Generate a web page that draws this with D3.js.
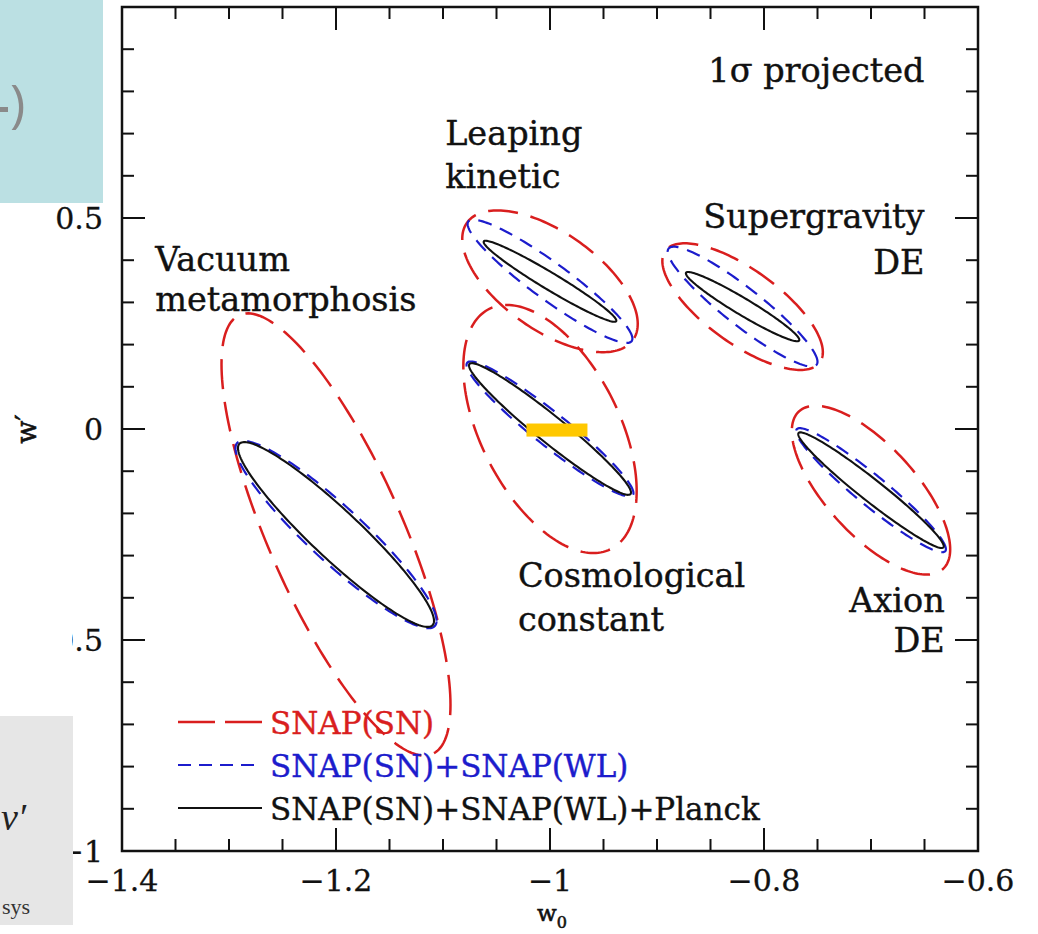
<!DOCTYPE html>
<html>
<head>
<meta charset="utf-8">
<script src="https://cdn.jsdelivr.net/npm/d3@7"></script>
<style>
  html, body { margin: 0; padding: 0; background: #fff; }
  svg { display: block; }
</style>
</head>
<body>
<div id="chart"></div>
<script>
// models (centres of the fiducial cosmologies)
const models = ['Vacuum metamorphosis', 'Leaping kinetic', 'Cosmological constant', 'Supergravity DE', 'Axion DE'];
const centerW0 = [-1.2, -1.0, -1.0, -0.82, -0.70];
const centerWp = [-0.25, 0.35, 0.0, 0.29, -0.145];

// 1 sigma projected errors and correlation, per data combination
const series = ['SNAP(SN)', 'SNAP(SN)+SNAP(WL)', 'SNAP(SN)+SNAP(WL)+Planck'];
const sigW0_SN = [0.107, 0.082, 0.081, 0.075, 0.074];
const sigWp_SN = [0.524, 0.168, 0.294, 0.150, 0.200];
const rho_SN = [-0.77, -0.60, -0.50, -0.72, -0.70];
const sigW0_WL = [0.094, 0.077, 0.078, 0.070, 0.070];
const sigWp_WL = [0.222, 0.146, 0.160, 0.142, 0.147];
const rho_WL = [-0.92, -0.93, -0.95, -0.92, -0.95];
const sigW0_PL = [0.0916, 0.062, 0.0757, 0.053, 0.068];
const sigWp_PL = [0.219, 0.096, 0.156, 0.082, 0.137];
const rho_PL = [-0.935, -0.97, -0.965, -0.96, -0.97];

// axis ticks
const xMajor = [-1.4, -1.2, -1.0, -0.8, -0.6];
const xTickLabels = ['\u22121.4', '\u22121.2', '\u22121', '\u22120.8', '\u22120.6'];
const yMajor = [-1, -0.5, 0, 0.5, 1];
const yTickLabels = ['\u22121', '\u22120.5', '0', '0.5', ''];

// text labels placed in data coordinates (baseline)
const labelLines = [
  { text: '1\u03c3 projected', w0: -0.650, wp: 0.823, anchor: 'end' },
  { text: 'Leaping', w0: -1.098, wp: 0.673, anchor: 'start' },
  { text: 'kinetic', w0: -1.098, wp: 0.571, anchor: 'start' },
  { text: 'Supergravity', w0: -0.650, wp: 0.476, anchor: 'end' },
  { text: 'DE', w0: -0.650, wp: 0.367, anchor: 'end' },
  { text: 'Vacuum', w0: -1.369, wp: 0.3744, anchor: 'start' },
  { text: 'metamorphosis', w0: -1.369, wp: 0.2796, anchor: 'start' },
  { text: 'Cosmological', w0: -1.030, wp: -0.374, anchor: 'start' },
  { text: 'constant', w0: -1.030, wp: -0.479, anchor: 'start' },
  { text: 'Axion', w0: -0.631, wp: -0.434, anchor: 'end' },
  { text: 'DE', w0: -0.631, wp: -0.529, anchor: 'end' }
];

(function () {
  const width = 1038;
  const height = 934;
  const font = '"DejaVu Serif", serif';

  const svg = d3.select('#chart').append('svg')
    .attr('width', width)
    .attr('height', height)
    .attr('viewBox', `0 0 ${width} ${height}`);

  svg.append('rect').attr('width', width).attr('height', height).attr('fill', '#fff');

  const x = d3.scaleLinear().domain([-1.4, -0.6]).range([122, 978]);
  const y = d3.scaleLinear().domain([-1, 1]).range([851, 7]);

  const xMinor = d3.range(-1.4, -0.6 + 1e-9, 0.05).filter(v => !xMajor.some(m => Math.abs(m - v) < 1e-6));
  const yMinor = d3.range(-1, 1 + 1e-9, 0.1).filter(v => !yMajor.some(m => Math.abs(m - v) < 1e-6));

  // ticks, inward on all four sides
  const tickLayer = svg.append('g').attr('class', 'ticks')
    .attr('stroke', '#111').attr('stroke-width', 2);

  function xticks(vals, len) {
    tickLayer.selectAll(null).data(vals).enter().append('line')
      .attr('x1', d => x(d)).attr('x2', d => x(d))
      .attr('y1', y(-1)).attr('y2', y(-1) - len);
    tickLayer.selectAll(null).data(vals).enter().append('line')
      .attr('x1', d => x(d)).attr('x2', d => x(d))
      .attr('y1', y(1)).attr('y2', y(1) + len);
  }
  function yticks(vals, len) {
    tickLayer.selectAll(null).data(vals).enter().append('line')
      .attr('y1', d => y(d)).attr('y2', d => y(d))
      .attr('x1', x(-1.4)).attr('x2', x(-1.4) + len);
    tickLayer.selectAll(null).data(vals).enter().append('line')
      .attr('y1', d => y(d)).attr('y2', d => y(d))
      .attr('x1', x(-0.6)).attr('x2', x(-0.6) - len);
  }
  xticks(xMajor, 23);
  xticks(xMinor, 12);
  yticks(yMajor, 23);
  yticks(yMinor, 12);

  // frame
  svg.append('rect')
    .attr('x', x(-1.4)).attr('y', y(1))
    .attr('width', x(-0.6) - x(-1.4)).attr('height', y(-1) - y(1))
    .attr('fill', 'none').attr('stroke', '#111').attr('stroke-width', 2.5);

  // tick labels
  svg.append('g').selectAll('text').data(xMajor).enter().append('text')
    .attr('x', d => x(d)).attr('y', 891)
    .attr('text-anchor', 'middle')
    .attr('font-family', font).attr('font-size', 30)
    .attr('fill', '#111').attr('stroke', '#111').attr('stroke-width', 0.3)
    .text((d, i) => xTickLabels[i]);

  svg.append('g').selectAll('text').data(yMajor).enter().append('text')
    .attr('x', 103).attr('y', d => y(d))
    .attr('dy', '0.36em')
    .attr('text-anchor', 'end')
    .attr('font-family', font).attr('font-size', 30)
    .attr('fill', '#111').attr('stroke', '#111').attr('stroke-width', 0.3)
    .text((d, i) => yTickLabels[i]);

  // axis titles
  const xt = svg.append('text')
    .attr('x', 537).attr('y', 921)
    .attr('font-family', font).attr('font-size', 23)
    .attr('fill', '#111').attr('stroke', '#111').attr('stroke-width', 0.6);
  xt.append('tspan').text('w');
  xt.append('tspan').attr('dy', 7).attr('font-size', 16).text('0');

  svg.append('text')
    .attr('transform', `translate(36, ${y(0)}) rotate(-90)`)
    .attr('text-anchor', 'middle')
    .attr('font-family', font).attr('font-size', 27)
    .attr('fill', '#111').attr('stroke', '#111').attr('stroke-width', 0.6)
    .text('w\u2032');

  // ellipses from sigmas and correlation
  const styles = [
    { color: '#d91e1e', width: 2.5, dash: '30,13', legendDash: '37,10' },
    { color: '#1c1ccc', width: 2.2, dash: '14,9', legendDash: '13,8' },
    { color: '#111111', width: 2.1, dash: null, legendDash: null }
  ];
  const sigW0 = [sigW0_SN, sigW0_WL, sigW0_PL];
  const sigWp = [sigWp_SN, sigWp_WL, sigWp_PL];
  const rhos = [rho_SN, rho_WL, rho_PL];

  const ellipse = (cx, cy, sx, sy, r) => d3.range(0, 2 * Math.PI, Math.PI / 90).map(t => [
    x(cx + sx * Math.cos(t)),
    y(cy + sy * (r * Math.cos(t) + Math.sqrt(1 - r * r) * Math.sin(t)))
  ]);
  const line = d3.line().curve(d3.curveLinearClosed);

  const ellLayer = svg.append('g').attr('class', 'ellipses');
  series.forEach((s, k) => {
    ellLayer.selectAll(null).data(models).enter().append('path')
      .attr('d', (m, i) => line(ellipse(centerW0[i], centerWp[i], sigW0[k][i], sigWp[k][i], rhos[k][i])))
      .attr('fill', 'none')
      .attr('stroke', styles[k].color)
      .attr('stroke-width', styles[k].width)
      .attr('stroke-dasharray', styles[k].dash);
  });

  // model labels
  svg.append('g').selectAll('text').data(labelLines).enter().append('text')
    .attr('x', d => x(d.w0)).attr('y', d => y(d.wp))
    .attr('text-anchor', d => d.anchor)
    .attr('font-family', font).attr('font-size', 33.5)
    .attr('fill', '#111').attr('stroke', '#111').attr('stroke-width', 0.4)
    .text(d => d.text);

  // legend
  const legend = svg.append('g').attr('class', 'legend');
  const legY = [722, 765, 808];
  series.forEach((s, k) => {
    legend.append('line')
      .attr('x1', 178).attr('x2', 262)
      .attr('y1', legY[k]).attr('y2', legY[k])
      .attr('stroke', styles[k].color)
      .attr('stroke-width', styles[k].width)
      .attr('stroke-dasharray', styles[k].legendDash);
    legend.append('text')
      .attr('x', 270).attr('y', legY[k] + 12)
      .attr('font-family', font).attr('font-size', 31)
      .attr('fill', styles[k].color).attr('stroke', styles[k].color).attr('stroke-width', 0.4)
      .text(s);
  });

  // slide overlays around the figure
  svg.append('rect').attr('x', 0).attr('y', 0).attr('width', 103).attr('height', 203).attr('fill', '#bbe0e3');
  svg.append('rect').attr('x', 0).attr('y', 107).attr('width', 8).attr('height', 5).attr('fill', '#8a8a8a');
  svg.append('text').attr('x', 10).attr('y', 122)
    .attr('font-family', '"Open Sans", sans-serif').attr('font-size', 52)
    .attr('fill', '#8a8a8a').text(')');
  svg.append('rect').attr('x', 0).attr('y', 450).attr('width', 72).attr('height', 266).attr('fill', '#fff');
  svg.append('rect').attr('x', 0).attr('y', 716).attr('width', 73).attr('height', 209).attr('fill', '#e6e6e6');
  svg.append('text').attr('x', 1).attr('y', 830)
    .attr('font-family', '"Liberation Serif", serif').attr('font-style', 'italic').attr('font-size', 38)
    .attr('fill', '#222').text('v\u2032');
  svg.append('text').attr('x', 2).attr('y', 914)
    .attr('font-family', '"Liberation Serif", serif').attr('font-size', 22)
    .attr('fill', '#333').text('sys');

  svg.append('rect')
    .attr('x', x(-1.022)).attr('y', y(0.013))
    .attr('width', x(-0.965) - x(-1.022)).attr('height', y(-0.018) - y(0.013))
    .attr('fill', '#ffc800');
})();
</script>
</body>
</html>
